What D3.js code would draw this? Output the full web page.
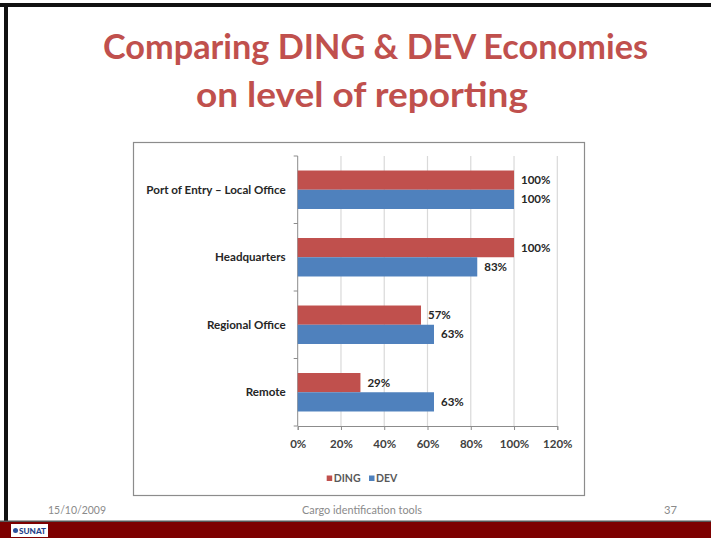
<!DOCTYPE html>
<html>
<head>
<meta charset="utf-8">
<script src="https://cdn.jsdelivr.net/npm/d3@7"></script>
<style>
  html, body { margin: 0; padding: 0; background: #fff; }
  svg { display: block; }
  text { font-family: Lato, "Open Sans", "DejaVu Sans", sans-serif; }
</style>
</head>
<body>
<svg id="slide" width="711" height="538"></svg>
<script>
// Reporting level categories (top to bottom) and the share per economy group
const categories = ["Port of Entry – Local Office", "Headquarters", "Regional Office", "Remote"];
const seriesNames = ["DING", "DEV"];
const dingValues = [100, 100, 57, 29];
const devValues = [100, 83, 63, 63];
const xTicks = [0, 20, 40, 60, 80, 100, 120];
const titleLines = ["Comparing DING & DEV Economies", "on level of reporting"];
const footerDate = "15/10/2009";
const footerTitle = "Cargo identification tools";
const slideNumber = "37";

const colors = { DING: "#C0504D", DEV: "#4F81BD" };
const series = [
  { name: seriesNames[0], values: dingValues },
  { name: seriesNames[1], values: devValues }
];

const svg = d3.select("#slide");

// slide background and frame
svg.append("rect").attr("x", 0).attr("y", 0).attr("width", 711).attr("height", 538).attr("fill", "#fff");
svg.append("rect").attr("x", 0).attr("y", 3).attr("width", 711).attr("height", 4).attr("fill", "#111");
svg.append("rect").attr("x", 4).attr("y", 3).attr("width", 4).attr("height", 518).attr("fill", "#111");

// title
const title = svg.append("g");
const titleY = [59, 107];
const titleW = [545, 332];
titleLines.forEach((t, i) => {
  title.append("text")
    .attr("x", 375.5 - (i === 0 ? 0 : 13.5)).attr("y", titleY[i])
    .attr("text-anchor", "middle")
    .attr("font-size", 34).attr("font-weight", 700)
    .attr("fill", "#C0504D")
    .attr("textLength", titleW[i]).attr("lengthAdjust", "spacingAndGlyphs")
    .text(t);
});

// chart frame
svg.append("rect")
  .attr("x", 133.5).attr("y", 142.5).attr("width", 451).attr("height", 353)
  .attr("fill", "#fff").attr("stroke", "#8c8c8c").attr("stroke-width", 1.2);

// scales
const plot = { left: 297.7, right: 557.3, top: 156, bottom: 426 };
const x = d3.scaleLinear().domain([0, 120]).range([plot.left, plot.right]);
const y = d3.scaleBand().domain(categories).range([plot.top, plot.bottom]).paddingInner(0.43).paddingOuter(0.215);
const ySub = d3.scaleBand().domain(seriesNames).range([0, y.bandwidth()]);

const chart = svg.append("g");

// vertical gridlines
chart.append("g").selectAll("line")
  .data(xTicks.filter(d => d > 0))
  .join("line")
  .attr("x1", d => x(d)).attr("x2", d => x(d))
  .attr("y1", plot.top).attr("y2", plot.bottom)
  .attr("stroke", "#d9d9d9").attr("stroke-width", 1.2);

// x axis
const xAxis = chart.append("g")
  .attr("transform", `translate(0,${plot.bottom})`)
  .call(d3.axisBottom(x).tickValues(xTicks).tickFormat(d => d + "%").tickSize(4).tickPadding(10));
xAxis.select(".domain").attr("stroke", "#8c8c8c");
xAxis.selectAll(".tick line").attr("stroke", "#8c8c8c");
xAxis.selectAll(".tick text")
  .attr("font-family", "Lato, sans-serif")
  .attr("font-size", 11.5).attr("font-weight", 700).attr("fill", "#404040");

// y axis: line with tick marks at category boundaries
const boundaries = d3.range(categories.length + 1).map(i => plot.top + i * (plot.bottom - plot.top) / categories.length);
chart.append("line")
  .attr("x1", plot.left).attr("x2", plot.left)
  .attr("y1", plot.top).attr("y2", plot.bottom)
  .attr("stroke", "#8c8c8c");
chart.append("g").selectAll("line")
  .data(boundaries)
  .join("line")
  .attr("x1", plot.left - 4).attr("x2", plot.left)
  .attr("y1", d => d).attr("y2", d => d)
  .attr("stroke", "#8c8c8c");

// category labels
chart.append("g").selectAll("text")
  .data(categories)
  .join("text")
  .attr("x", 285.7)
  .attr("y", d => y(d) + y.bandwidth() / 2 + 4)
  .attr("text-anchor", "end")
  .attr("font-size", 11.6).attr("font-weight", 700).attr("fill", "#262626")
  .text(d => d);

// bars and value labels
series.forEach(s => {
  const g = chart.append("g");
  g.selectAll("rect")
    .data(s.values)
    .join("rect")
    .attr("x", x(0))
    .attr("y", (d, i) => y(categories[i]) + ySub(s.name))
    .attr("width", d => x(d) - x(0))
    .attr("height", ySub.bandwidth())
    .attr("fill", colors[s.name]);
  g.selectAll("text")
    .data(s.values)
    .join("text")
    .attr("x", d => x(d) + 7)
    .attr("y", (d, i) => y(categories[i]) + ySub(s.name) + ySub.bandwidth() / 2 + 4)
    .attr("font-size", 11.5).attr("font-weight", 700).attr("fill", "#262626")
    .text(d => d + "%");
});

// legend
const legendX = [326.7, 369];
const legend = chart.append("g");
series.forEach((s, i) => {
  legend.append("rect")
    .attr("x", legendX[i]).attr("y", 475.5).attr("width", 5.5).attr("height", 5.5)
    .attr("fill", colors[s.name]);
  legend.append("text")
    .attr("x", legendX[i] + 7).attr("y", 482)
    .attr("font-size", 10.5).attr("font-weight", 700).attr("fill", "#595959")
    .text(s.name);
});

// footer
const footer = svg.append("g").attr("fill", "#8a8a8a").attr("font-size", 11.5);
footer.append("text").attr("x", 48).attr("y", 514).attr("textLength", 58).attr("lengthAdjust", "spacingAndGlyphs").text(footerDate);
footer.append("text").attr("x", 362).attr("y", 514).attr("text-anchor", "middle").attr("textLength", 120).attr("lengthAdjust", "spacingAndGlyphs").text(footerTitle);
footer.append("text").attr("x", 664).attr("y", 514).attr("textLength", 13).attr("lengthAdjust", "spacingAndGlyphs").text(slideNumber);

// bottom band with logo
svg.append("rect").attr("x", 0).attr("y", 521).attr("width", 711).attr("height", 17).attr("fill", "#7d0000");
svg.append("rect").attr("x", 0).attr("y", 520.5).attr("width", 711).attr("height", 1.5).attr("fill", "#555");
svg.append("rect").attr("x", 11).attr("y", 524).attr("width", 37).attr("height", 13).attr("fill", "#fff");
svg.append("circle").attr("cx", 15.5).attr("cy", 530.5).attr("r", 2.5).attr("fill", "#2a4f9c");
svg.append("text").attr("x", 19).attr("y", 533.5)
  .attr("font-size", 7).attr("font-weight", 900).attr("fill", "#1f3f8a")
  .attr("textLength", 27).attr("lengthAdjust", "spacingAndGlyphs")
  .text("SUNAT");
</script>
</body>
</html>
